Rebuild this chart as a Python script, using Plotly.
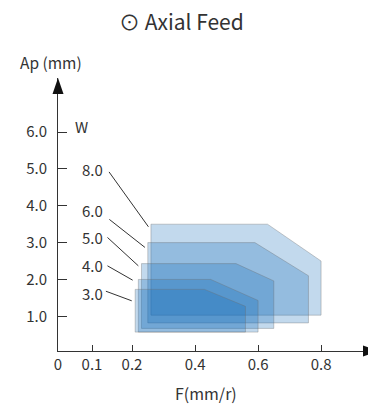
import plotly.graph_objects as go

# 가공 영역 데이터 (W 값별 다각형)
w_labels = ["8.0", "6.0", "5.0", "4.0", "3.0"]
f_left = [0.26, 0.25, 0.23, 0.22, 0.21]
f_corner = [0.63, 0.59, 0.53, 0.45, 0.43]
f_right = [0.80, 0.76, 0.65, 0.60, 0.56]
ap_top = [3.5, 3.0, 2.43, 2.0, 1.73]
ap_step = [2.5, 2.1, 1.96, 1.43, 1.27]
ap_bottom = [1.03, 0.82, 0.67, 0.57, 0.57]

# 축 눈금 (0, 0.1 구간은 압축되어 있음)
x_tick_text = ["0", "0.1", "0.2", "0.4", "0.6", "0.8"]
x_tick_pos = [-0.035, 0.073, 0.2, 0.4, 0.6, 0.8]
y_ticks = [1.0, 2.0, 3.0, 4.0, 5.0, 6.0]

# 라벨 위치 및 지시선
label_x = 0.075
label_y = [4.99, 3.86, 3.13, 2.37, 1.62]
leader_lines = [
    (0.127, 4.92, 0.252, 3.43),
    (0.128, 3.63, 0.241, 2.87),
    (0.122, 3.14, 0.220, 2.37),
    (0.122, 2.37, 0.202, 1.98),
    (0.117, 1.68, 0.199, 1.42),
]

FONT = "Noto Sans CJK SC"
TEXT_COLOR = "#333333"

fig = go.Figure()

for i, w in enumerate(w_labels):
    xs = [f_left[i], f_left[i], f_corner[i], f_right[i], f_right[i], f_left[i]]
    ys = [ap_bottom[i], ap_top[i], ap_top[i], ap_step[i], ap_bottom[i], ap_bottom[i]]
    fig.add_trace(go.Scatter(
        x=xs,
        y=ys,
        mode='lines',
        fill='toself',
        fillcolor='rgba(12, 102, 182, 0.25)',
        line=dict(color='rgba(110, 110, 110, 0.35)', width=1),
        name=w,
        hoverinfo='skip',
    ))

# W 라벨
for w, y in zip(w_labels, label_y):
    fig.add_annotation(x=label_x, y=y, text=w, showarrow=False,
                       font=dict(size=15, color=TEXT_COLOR, family=FONT))

for x0, y0, x1, y1 in leader_lines:
    fig.add_shape(type='line', x0=x0, y0=y0, x1=x1, y1=y1,
                  line=dict(color=TEXT_COLOR, width=1))

fig.add_annotation(x=0.04, y=6.14, text="W", showarrow=False,
                   font=dict(size=15, color=TEXT_COLOR, family=FONT))
fig.add_annotation(xref='paper', yref='paper', x=-0.021, y=1.06, text="Ap (mm)",
                   xanchor='center', yanchor='middle', showarrow=False,
                   font=dict(size=15.5, color=TEXT_COLOR, family=FONT))
fig.add_annotation(xref='paper', yref='paper', x=0.479, y=-0.153, text="F(mm/r)",
                   xanchor='center', yanchor='middle', showarrow=False,
                   font=dict(size=16, color=TEXT_COLOR, family=FONT))

# 축 화살표
fig.add_shape(type='path', xref='paper', yref='paper', xsizemode='pixel', ysizemode='pixel',
              xanchor=0, yanchor=1, path="M 0 0 L -5.5 -16 L 5.5 -16 Z",
              fillcolor='#111111', line=dict(width=0))
fig.add_shape(type='path', xref='paper', yref='paper', xsizemode='pixel', ysizemode='pixel',
              xanchor=1, yanchor=0, path="M -5 5.5 L 11 0 L -5 -5.5 Z",
              fillcolor='#111111', line=dict(width=0))

fig.update_layout(
    width=368,
    height=404,
    margin=dict(l=58, r=0, t=78, b=53),
    paper_bgcolor='white',
    plot_bgcolor='white',
    showlegend=False,
    title=dict(text="⊙ Axial Feed", x=0.493, xref='container', xanchor='center',
               y=1 - 22.7 / 404, yref='container', yanchor='middle',
               font=dict(size=21, color=TEXT_COLOR, family=FONT)),
    font=dict(family=FONT, color=TEXT_COLOR),
)

fig.update_xaxes(
    range=[-0.035, 0.949],
    tickvals=x_tick_pos,
    ticktext=x_tick_text,
    ticks='inside',
    ticklen=6,
    tickcolor=TEXT_COLOR,
    showline=True,
    linecolor=TEXT_COLOR,
    linewidth=1,
    showgrid=False,
    zeroline=False,
    tickfont=dict(size=15, color=TEXT_COLOR, family=FONT),
)
fig.update_yaxes(
    range=[0.057, 7.47],
    tickvals=y_ticks,
    ticktext=[f"{v:.1f}" for v in y_ticks],
    ticks='inside',
    ticklen=9,
    tickcolor=TEXT_COLOR,
    showline=True,
    linecolor=TEXT_COLOR,
    linewidth=1,
    showgrid=False,
    zeroline=False,
    ticklabelstandoff=7,
    tickfont=dict(size=15, color=TEXT_COLOR, family=FONT),
)

fig.write_html("out.html", config={'displayModeBar': False},
               post_script="document.body.style.margin='0';")
